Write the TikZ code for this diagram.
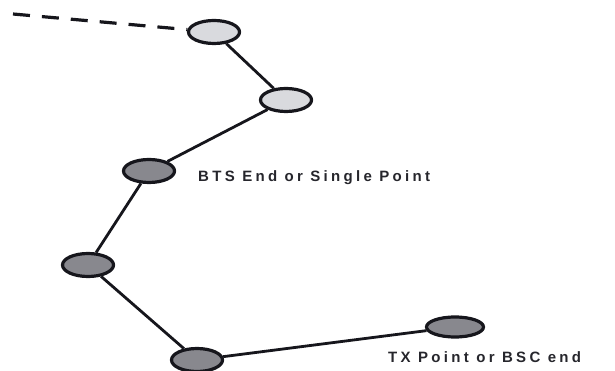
\documentclass[tikz,border=0pt]{standalone}
\usepackage{fontspec}
\newfontfamily\labfont[LetterSpace=22]{Liberation Sans}
\definecolor{lightfill}{HTML}{D9DADE}
\definecolor{darkfill}{HTML}{88888E}
\definecolor{edgecol}{HTML}{16161C}
\definecolor{textcol}{HTML}{26262C}
\usetikzlibrary{shapes.geometric}
\begin{document}
\begin{tikzpicture}[x=1pt,y=-1pt,
  pt/.style={ellipse, draw=edgecol, line width=3.2pt, minimum width=51pt, minimum height=23pt, inner sep=0pt},
  lightpt/.style={pt, fill=lightfill},
  darkpt/.style={pt, fill=darkfill},
  link/.style={draw=edgecol, line width=2.8pt},
  dashlink/.style={draw=edgecol, line width=3.2pt, dash pattern=on 17pt off 12pt},
  lab/.style={anchor=base west, inner sep=0pt, text=textcol, font=\labfont\bfseries\fontsize{15}{17}\selectfont}]
\useasboundingbox (0,0) rectangle (615,371);
\coordinate (start) at (13,14);
\node[lightpt] (n1) at (214,32) {};
\node[lightpt] (n2) at (286,100) {};
\node[darkpt] (n3) at (149,171) {};
\node[darkpt] (n4) at (88,265) {};
\node[darkpt] (n5) at (197,360) {};
\node[darkpt, minimum width=57pt, minimum height=20pt] (n6) at (455,327) {};
\draw[dashlink] (start) -- (n1);
\draw[link] (n1) -- (n2);
\draw[link] (n2) -- (n3);
\draw[link] (n3) -- (n4);
\draw[link] (n4) -- (n5);
\draw[link] (n5) -- (n6);
\node[lab] (bts) at (198,182) {BTS End or Single Point};
\node[lab] (tx) at (388,362) {TX Point or BSC end};
\end{tikzpicture}
\end{document}
